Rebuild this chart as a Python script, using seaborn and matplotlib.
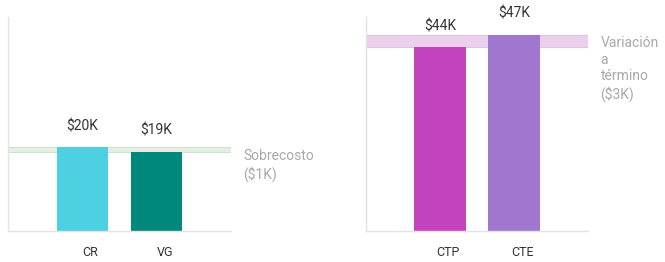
import matplotlib
matplotlib.use("Agg")
import matplotlib.pyplot as plt
import matplotlib.transforms as mtransforms
import seaborn as sns
import pandas as pd

# datos (miles de $)
cats_izq = ["CR", "VG"]
vals_izq = [20, 19]
etiq_izq = ["\\$20K", "\\$19K"]
nota_izq = "Sobrecosto\n(\\$1K)"

cats_der = ["CTP", "CTE"]
vals_der = [44, 47]
etiq_der = ["\\$44K", "\\$47K"]
nota_der = "Variación\na\ntérmino\n(\\$3K)"

colores_izq = ["#4dd0e1", "#00897b"]
colores_der = ["#c343bf", "#a176cf"]

sns.set_style("white")
plt.rcParams["font.family"] = ["Roboto", "DejaVu Sans"]

fig = plt.figure(figsize=(6.65, 2.62), dpi=100)
ax1 = fig.add_axes([8/665, 31/262, 223/665, 214/262])
ax2 = fig.add_axes([366/665, 31/262, 222/665, 214/262])


def panel(ax, cats, vals, etiqs, colores, nota, banda, borde):
    df = pd.DataFrame({"cat": cats, "val": vals})
    # banda entre el menor y el mayor valor
    ax.axhspan(min(vals), max(vals), color=banda, zorder=0, lw=0)
    ax.axhline(min(vals), color=borde, lw=0.8, zorder=0)
    ax.axhline(max(vals), color=borde, lw=0.8, zorder=0)
    sns.barplot(data=df, x="cat", y="val", hue="cat", palette=colores,
                width=0.69, legend=False, ax=ax, zorder=2, saturation=1,
                linewidth=0)
    for i, (v, t) in enumerate(zip(vals, etiqs)):
        ax.annotate(t, xy=(i, v), xytext=(0, 10), textcoords="offset points",
                    ha="center", va="bottom", fontsize=10, color="#333333")
    trans = mtransforms.blended_transform_factory(ax.transAxes, ax.transData)
    ax.annotate(nota, xy=(1, max(vals)), xycoords=trans, xytext=(9, -1),
                textcoords="offset points", ha="left", va="top",
                fontsize=10, color="#a8a8a8", linespacing=1.25,
                annotation_clip=False)
    ax.set_xlim(-1, 2)
    ax.set_ylim(0, 51.2)
    ax.set_xlabel("")
    ax.set_ylabel("")
    ax.set_yticks([])
    ax.tick_params(axis="x", length=0, pad=11, labelsize=9, labelcolor="#333333")
    off = mtransforms.ScaledTranslation(8/100, 0, fig.dpi_scale_trans)
    for lab in ax.get_xticklabels():
        lab.set_transform(lab.get_transform() + off)
    for s in ["top", "right"]:
        ax.spines[s].set_visible(False)
    for s in ["left", "bottom"]:
        ax.spines[s].set_color("#e3e3e3")
        ax.spines[s].set_linewidth(1)


panel(ax1, cats_izq, vals_izq, etiq_izq, colores_izq, nota_izq, "#e6efe6", "#cfe2cf")
panel(ax2, cats_der, vals_der, etiq_der, colores_der, nota_der, "#ead0ea", "#e2c2e2")

fig.savefig("out.png", dpi=100)
